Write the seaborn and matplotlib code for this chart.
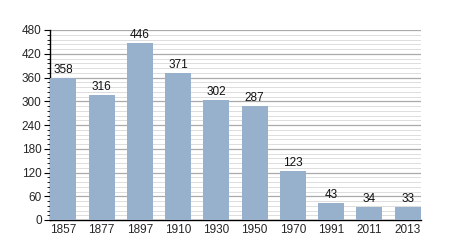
import matplotlib
matplotlib.use("Agg")
import matplotlib.pyplot as plt
import seaborn as sns
import pandas as pd
from matplotlib.ticker import MultipleLocator

years = ["1857", "1877", "1897", "1910", "1930", "1950", "1970", "1991", "2011", "2013"]
population = [358, 316, 446, 371, 302, 287, 123, 43, 34, 33]

df = pd.DataFrame({"year": years, "pop": population})

sns.set_theme(style="white")
plt.rcParams['font.family'] = ['Liberation Sans', 'DejaVu Sans']

fig = plt.figure(figsize=(4.5, 2.5), dpi=100)
ax = fig.add_axes([50/450, 30/250, 371/450, 190/250])

sns.barplot(data=df, x="year", y="pop", color="#97b0cb", saturation=1, width=0.68,
            linewidth=0, edgecolor="none", ax=ax, zorder=3)

ax.set_ylim(0, 480)
ax.set_xlim(-0.35, 9.35)
ax.yaxis.set_major_locator(MultipleLocator(60))
ax.yaxis.set_minor_locator(MultipleLocator(12))
ax.grid(which="major", axis="y", color="#aaaaaa", linewidth=0.9, zorder=0)
ax.grid(which="minor", axis="y", color="#dddddd", linewidth=0.7, zorder=0)
ax.set_axisbelow(True)

for s in ["top", "right"]:
    ax.spines[s].set_visible(False)
ax.spines["left"].set_color("black")
ax.spines["bottom"].set_color("black")
ax.spines["left"].set_linewidth(1)
ax.spines["bottom"].set_linewidth(1)

ax.tick_params(axis="y", which="major", left=True, length=4, width=0.8, color="black", labelsize=8.5, pad=2)
ax.tick_params(axis="y", which="minor", left=True, length=2, width=0.6, color="black")
ax.tick_params(axis="x", bottom=False, length=0, labelsize=8.5, pad=3)
ax.set_xlabel("")
ax.set_ylabel("")

for i, v in enumerate(population):
    ax.text(i, v + 5, str(v), ha="center", va="bottom", fontsize=8.5, color="#111111")

fig.savefig("out.png", dpi=100)
